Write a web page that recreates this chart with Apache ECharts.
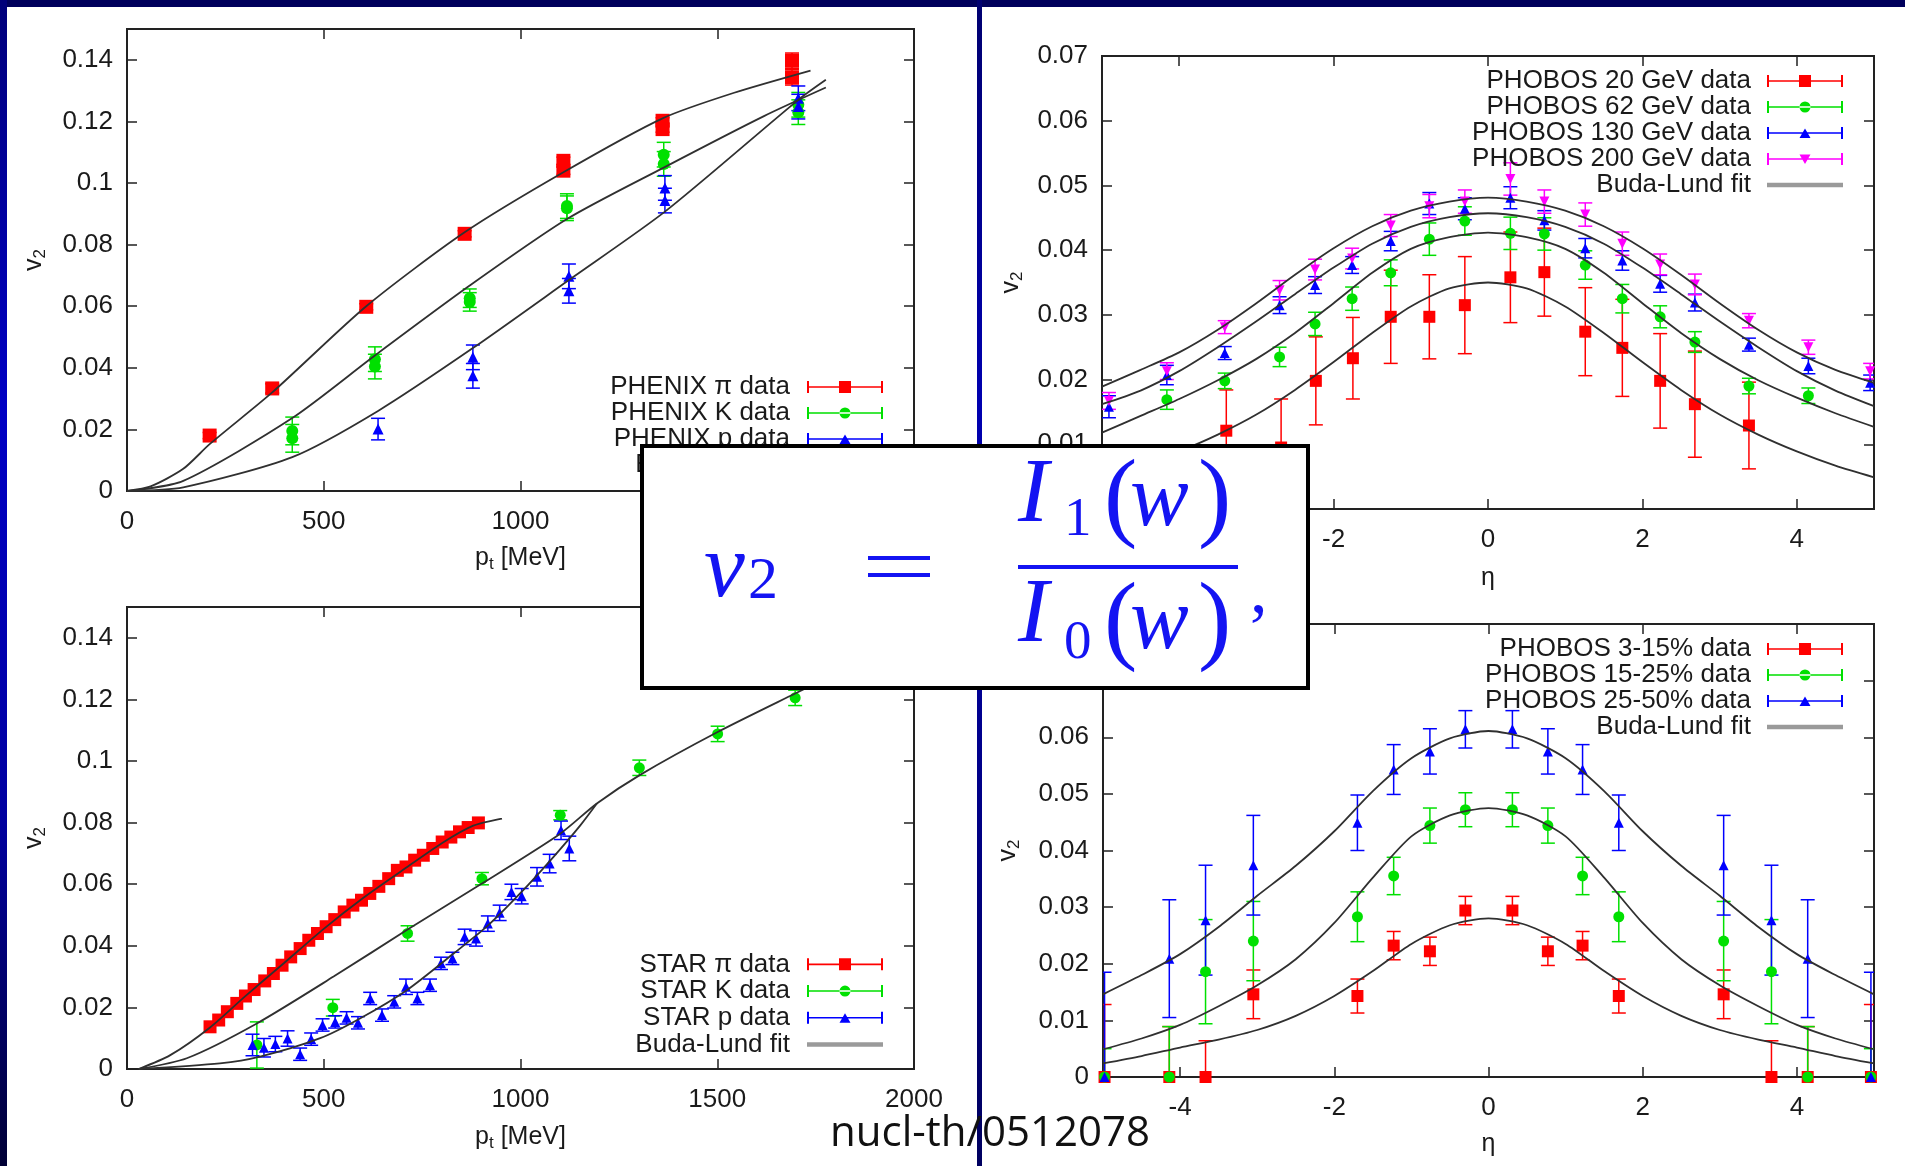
<!DOCTYPE html>
<html>
<head>
<meta charset="utf-8">
<script src="https://cdn.jsdelivr.net/npm/echarts@6/dist/echarts.min.js"></script>
<style>
html, body { margin: 0; padding: 0; background: #fff; }
#main { width: 1905px; height: 1166px; }
</style>
</head>
<body>
<div id="main"></div>
<script>
// ---------- tick labels ----------
var ptTicks = [0, 500, 1000, 1500, 2000];
var etaTicks = [-4, -2, 0, 2, 4];
var v2TicksPt = [0, 0.02, 0.04, 0.06, 0.08, 0.1, 0.12, 0.14];
var v2TicksEnergy = [0, 0.01, 0.02, 0.03, 0.04, 0.05, 0.06, 0.07];
var v2TicksCentral = [0, 0.01, 0.02, 0.03, 0.04, 0.05, 0.06, 0.07, 0.08];

// ---------- top left: PHENIX ----------
var phenixPiPt = [210, 369, 608, 858, 1109, 1109, 1361, 1361, 1690, 1690];
var phenixPiV2 = [0.018, 0.0333, 0.0598, 0.0835, 0.1072, 0.1040, 0.1202, 0.1175, 0.1397, 0.1343];
var phenixPiErr = [0.001, 0.0015, 0.001, 0.001, 0.0012, 0.0012, 0.001, 0.001, 0.0025, 0.0025];
var phenixKPt = [420, 420, 630, 630, 871, 871, 1118, 1118, 1364, 1364, 1706, 1706];
var phenixKV2 = [0.0195, 0.0171, 0.0428, 0.0404, 0.0626, 0.0614, 0.0925, 0.0918, 0.1092, 0.1062, 0.1254, 0.1230];
var phenixKErr = [0.0045, 0.0045, 0.004, 0.004, 0.003, 0.003, 0.004, 0.004, 0.004, 0.004, 0.004, 0.004];
var phenixPPt = [638, 879, 879, 1123, 1123, 1367, 1367, 1706, 1706];
var phenixPV2 = [0.0201, 0.0434, 0.0374, 0.0697, 0.0650, 0.0984, 0.0943, 0.1275, 0.1248];
var phenixPErr = [0.0035, 0.004, 0.004, 0.004, 0.004, 0.004, 0.004, 0.004, 0.004];
var fitPhenixPiPt = [0, 60, 143, 210, 369, 608, 858, 1109, 1361, 1543, 1737];
var fitPhenixPiV2 = [0, 0.0015, 0.0072, 0.0152, 0.032, 0.060, 0.084, 0.1035, 0.121, 0.1293, 0.1365];
var fitPhenixKPt = [0, 143, 420, 630, 871, 1118, 1364, 1620, 1776];
var fitPhenixKV2 = [0, 0.0033, 0.0237, 0.044, 0.0667, 0.0883, 0.105, 0.1218, 0.131];
var fitPhenixPPt = [0, 143, 420, 638, 879, 1123, 1367, 1706, 1776];
var fitPhenixPV2 = [0, 0.0012, 0.011, 0.026, 0.0464, 0.0685, 0.0907, 0.127, 0.1335];

// ---------- bottom left: STAR ----------
var starPiPt = [211, 233, 255, 279, 301, 323, 350, 372, 394, 416, 440, 462, 484, 506, 528, 552,
  574, 596, 617, 640, 665, 687, 709, 731, 753, 777, 801, 823, 845, 867, 893];
var starPiV2 = [0.0137, 0.0159, 0.0186, 0.0213, 0.0237, 0.0258, 0.0286, 0.031, 0.0337, 0.0364, 0.0391,
  0.0418, 0.044, 0.0462, 0.0485, 0.051, 0.0532, 0.0548, 0.057, 0.0593, 0.0618, 0.0645, 0.0656, 0.0678,
  0.0694, 0.0716, 0.0737, 0.0753, 0.077, 0.0784, 0.0799];
var starKPt = [330, 523, 713, 902, 1101, 1302, 1501, 1698];
var starKV2 = [0.0078, 0.0199, 0.044, 0.0618, 0.0824, 0.0978, 0.1088, 0.1205];
var starKErr = [0.0075, 0.0027, 0.0025, 0.002, 0.0015, 0.0025, 0.0025, 0.0025];
var starPPt = [319, 348, 377, 408, 440, 468, 497, 529, 558, 587, 618, 648, 679, 709, 738, 770, 798,
  827, 858, 887, 917, 947, 977, 1003, 1042, 1074, 1103, 1124];
var starPV2 = [0.0078, 0.0069, 0.0081, 0.0099, 0.0048, 0.0097, 0.0143, 0.0153, 0.0166, 0.015, 0.0229,
  0.0175, 0.0218, 0.0267, 0.0229, 0.0272, 0.0343, 0.0359, 0.0429, 0.0424, 0.0472, 0.0507, 0.0575,
  0.0561, 0.0624, 0.0667, 0.0775, 0.0716];
var starPErr = [0.0035, 0.003, 0.0025, 0.0025, 0.002, 0.002, 0.002, 0.002, 0.002, 0.002, 0.002, 0.002,
  0.002, 0.0025, 0.002, 0.002, 0.002, 0.002, 0.0025, 0.0025, 0.0025, 0.0025, 0.0025, 0.0025, 0.003,
  0.003, 0.003, 0.004];
var fitStarPiPt = [30, 110, 211, 300, 400, 500, 600, 700, 800, 880, 953];
var fitStarPiV2 = [0, 0.0045, 0.0135, 0.0236, 0.0345, 0.0455, 0.0555, 0.0645, 0.0733, 0.079, 0.0813];
var fitStarKPt = [30, 152, 330, 525, 711, 902, 1101, 1194, 1304, 1501, 1698, 1780];
var fitStarKV2 = [0, 0.0035, 0.0148, 0.03, 0.0451, 0.0602, 0.0764, 0.0862, 0.0955, 0.1094, 0.1219, 0.127];
var fitStarPPt = [30, 236, 338, 491, 592, 711, 830, 914, 999, 1084, 1152, 1194];
var fitStarPV2 = [0, 0.0018, 0.004, 0.01, 0.0164, 0.0256, 0.0375, 0.0462, 0.057, 0.0689, 0.0791, 0.0862];

// ---------- top right: PHOBOS energies ----------
var eta20 = [-3.39, -2.68, -2.23, -1.75, -1.26, -0.76, -0.30, 0.29, 0.73, 1.26, 1.74, 2.23, 2.68, 3.38];
var v2At20 = [0.0121, 0.0095, 0.0198, 0.0233, 0.0297, 0.0297, 0.0315, 0.0358, 0.0366, 0.0274, 0.0249, 0.0198, 0.0162, 0.0129];
var err20 = [0.0063, 0.0075, 0.0068, 0.0063, 0.0072, 0.0065, 0.0075, 0.007, 0.0068, 0.0068, 0.0075, 0.0073, 0.0082, 0.0067];
var eta62 = [-4.16, -3.41, -2.70, -2.24, -1.76, -1.26, -0.76, -0.30, 0.29, 0.73, 1.26, 1.74, 2.23, 2.68, 3.38, 4.15];
var v2At62 = [0.0169, 0.0198, 0.0235, 0.0286, 0.0325, 0.0365, 0.0417, 0.0445, 0.0426, 0.0425, 0.0377, 0.0325, 0.0297, 0.0258, 0.019, 0.0175];
var err62 = [0.0015, 0.0012, 0.0015, 0.0018, 0.0018, 0.002, 0.0025, 0.0022, 0.0025, 0.0025, 0.0022, 0.0022, 0.0017, 0.0016, 0.0012, 0.0012];
var etaHigh = [-4.91, -4.16, -3.41, -2.70, -2.24, -1.76, -1.26, -0.76, -0.30, 0.29, 0.73, 1.26, 1.74, 2.23, 2.68, 3.38, 4.15, 4.95];
var v2At130 = [0.0158, 0.0207, 0.0241, 0.0315, 0.0346, 0.0377, 0.0414, 0.0472, 0.0464, 0.0481, 0.0446, 0.0403, 0.0384, 0.0348, 0.0319, 0.0254, 0.0221, 0.0195];
var err130 = [0.0017, 0.0015, 0.001, 0.0013, 0.0013, 0.0013, 0.0015, 0.0017, 0.0017, 0.0017, 0.0015, 0.0015, 0.0015, 0.0013, 0.0013, 0.001, 0.0012, 0.0012];
var v2At200 = [0.0167, 0.0213, 0.0281, 0.0338, 0.037, 0.0387, 0.0438, 0.0468, 0.0475, 0.051, 0.0475, 0.0455, 0.041, 0.0378, 0.0347, 0.0291, 0.025, 0.0213];
var err200 = [0.0013, 0.0013, 0.001, 0.0015, 0.0016, 0.0016, 0.0017, 0.0018, 0.0018, 0.0025, 0.0018, 0.0018, 0.0018, 0.0016, 0.0016, 0.0011, 0.0011, 0.0012];
var etaFit = [-5, -4.5, -4, -3.5, -3, -2.5, -2, -1.5, -1, -0.5, 0, 0.5, 1, 1.5, 2, 2.5, 3, 3.5, 4, 4.5, 5];
var fit20 = [0.0049, 0.0067, 0.0089, 0.0115, 0.0146, 0.0184, 0.0227, 0.0272, 0.0313, 0.0341, 0.035, 0.0341, 0.0313, 0.0272, 0.0227, 0.0184, 0.0146, 0.0115, 0.0089, 0.0067, 0.0049];
var fit62 = [0.0118, 0.0144, 0.0170, 0.0199, 0.0232, 0.0272, 0.0318, 0.0365, 0.0402, 0.042, 0.0427, 0.042, 0.0402, 0.0365, 0.0318, 0.0272, 0.0232, 0.0199, 0.0172, 0.0148, 0.0127];
var fit130 = [0.0162, 0.0183, 0.0213, 0.025, 0.029, 0.0332, 0.0373, 0.041, 0.0436, 0.0451, 0.0457, 0.0451, 0.0436, 0.041, 0.0373, 0.0332, 0.029, 0.025, 0.0213, 0.0183, 0.0159];
var fit200 = [0.0189, 0.0215, 0.0242, 0.0277, 0.0318, 0.0362, 0.0403, 0.0437, 0.0461, 0.0475, 0.0481, 0.0475, 0.0461, 0.0437, 0.0403, 0.0362, 0.0318, 0.0277, 0.0242, 0.0215, 0.0195];

// ---------- bottom right: PHOBOS centralities ----------
var etaCent = [-4.98, -4.14, -3.67, -3.05, -1.70, -1.23, -0.76, -0.30, 0.31, 0.77, 1.22, 1.69, 3.05, 3.67, 4.14, 4.96];
var v2Cent3 = [0, 0, 0, 0.0146, 0.0143, 0.0232, 0.0222, 0.0294, 0.0294, 0.0222, 0.0232, 0.0143, 0.0146, 0, 0, 0];
var errCent3 = [0.0128, 0.0089, 0.0064, 0.0043, 0.003, 0.0025, 0.0025, 0.0025, 0.0025, 0.0025, 0.0025, 0.003, 0.0043, 0.0064, 0.0089, 0.0128];
var v2Cent15 = [0, 0, 0.0186, 0.024, 0.0283, 0.0355, 0.0444, 0.0472, 0.0472, 0.0444, 0.0355, 0.0283, 0.024, 0.0186, 0, 0];
var errCent15 = [0.005, 0.0089, 0.0092, 0.007, 0.0044, 0.0033, 0.0031, 0.003, 0.003, 0.0031, 0.0033, 0.0044, 0.007, 0.0092, 0.0089, 0.005];
var v2Cent25 = [0, 0.0209, 0.0277, 0.0374, 0.0449, 0.0543, 0.0575, 0.0614, 0.0614, 0.0575, 0.0543, 0.0449, 0.0374, 0.0277, 0.0209, 0];
var errCent25 = [0.0185, 0.0104, 0.0097, 0.0088, 0.0049, 0.0044, 0.004, 0.0033, 0.0033, 0.004, 0.0044, 0.0049, 0.0088, 0.0097, 0.0104, 0.0185];
var fitCent3 = [0.0024, 0.0037, 0.0052, 0.0066, 0.0083, 0.0108, 0.0143, 0.0187, 0.0235, 0.0268, 0.028, 0.0268, 0.0235, 0.0187, 0.0143, 0.0108, 0.0083, 0.0066, 0.0052, 0.0037, 0.0024];
var fitCent15 = [0.0049, 0.0068, 0.0092, 0.0125, 0.0162, 0.0208, 0.0272, 0.0352, 0.0425, 0.0462, 0.0475, 0.0462, 0.0425, 0.0352, 0.0272, 0.0208, 0.0162, 0.0125, 0.0092, 0.0068, 0.0049];
var fitCent25 = [0.0146, 0.018, 0.0217, 0.0265, 0.032, 0.0373, 0.0434, 0.0505, 0.0563, 0.0598, 0.0611, 0.0598, 0.0563, 0.0505, 0.0434, 0.0373, 0.032, 0.0265, 0.0217, 0.018, 0.0146];

var FONT = 'Liberation Sans';
var INK = '#1a1a1a';
var RED = '#ff0000', GREEN = '#00e000', BLUE = '#0000ff', MAGENTA = '#ff00ff', FITC = '#303030';
var FORMULA = '#1414f2';

// legend samples: error bar line with caps and a marker in the middle
var iconSquare = 'path://M0,0h2v12h-2z M74,0h2v12h-2z M0,5.2h76v1.6h-76z M32,0h12v12h-12z';
var iconCircle = 'path://M0,0h2v12h-2z M74,0h2v12h-2z M0,5.2h76v1.6h-76z M32.5,6a5.5,5.5 0 1,0 11,0a5.5,5.5 0 1,0 -11,0z';
var iconTri = 'path://M0,0h2v12h-2z M74,0h2v12h-2z M0,5.2h76v1.6h-76z M38,1.5L43.5,11h-11z';
var iconTriDown = 'path://M0,0h2v12h-2z M74,0h2v12h-2z M0,5.2h76v1.6h-76z M32.5,1.5h11L38,11z';
var iconFit = 'path://M0,0h76v4.5h-76z';

function pts(xs, ys) { return xs.map(function (x, i) { return [x, ys[i]]; }); }
function bars(xs, ys, es) { return xs.map(function (x, i) { return [x, ys[i], ys[i] - es[i], ys[i] + es[i]]; }); }

function errorBar(params, api) {
    var x = api.value(0);
    var p1 = api.coord([x, api.value(2)]);
    var p2 = api.coord([x, api.value(3)]);
    var w = 7;
    var st = { stroke: api.visual('color'), lineWidth: 1.5, fill: null };
    return {
        type: 'group',
        children: [
            { type: 'line', shape: { x1: p1[0], y1: p1[1], x2: p2[0], y2: p2[1] }, style: st },
            { type: 'line', shape: { x1: p1[0] - w, y1: p1[1], x2: p1[0] + w, y2: p1[1] }, style: st },
            { type: 'line', shape: { x1: p2[0] - w, y1: p2[1], x2: p2[0] + w, y2: p2[1] }, style: st }
        ]
    };
}

function dataSeries(name, g, xs, ys, es, color, symbol, size, rotate) {
    var out = [];
    if (es) {
        out.push({
            name: name, type: 'custom', xAxisIndex: 2 * g, yAxisIndex: 2 * g,
            renderItem: errorBar, data: bars(xs, ys, es), encode: { x: 0, y: 1 },
            itemStyle: { color: color }, z: 2, clip: true, silent: true
        });
    }
    out.push({
        name: name, type: 'scatter', xAxisIndex: 2 * g, yAxisIndex: 2 * g,
        data: pts(xs, ys), symbol: symbol, symbolSize: size, symbolRotate: rotate || 0,
        itemStyle: { color: color, opacity: 1 }, z: 3, silent: true
    });
    return out;
}

function fitSeries(g, xs, ys) {
    return {
        name: 'Buda-Lund fit', type: 'line', xAxisIndex: 2 * g, yAxisIndex: 2 * g,
        data: pts(xs, ys), symbol: 'none', showSymbol: false, smooth: 0.25,
        lineStyle: { color: FITC, width: 1.8 }, itemStyle: { color: FITC }, z: 4, silent: true
    };
}

var subRich = {
    n: { fontFamily: FONT, fontSize: 25, color: INK, verticalAlign: 'top' },
    s: { fontFamily: FONT, fontSize: 17, color: INK, lineHeight: 27, verticalAlign: 'bottom' }
};

function axisPair(kind, g, min, max, ticks, name, gap) {
    var tick = { show: true, inside: true, length: 10, customValues: ticks, lineStyle: { color: '#222', width: 1.5 } };
    var line = { show: false, onZero: false };
    var main = {
        gridIndex: g, type: 'value', min: min, max: max,
        position: kind === 'x' ? 'bottom' : 'left',
        splitLine: { show: false }, axisLine: line, axisTick: tick,
        axisLabel: {
            show: true, customValues: ticks, margin: kind === 'x' ? 18 : 14,
            fontFamily: FONT, fontSize: 26, color: INK,
            formatter: function (v) { return String(v); }
        },
        name: name, nameLocation: 'middle', nameGap: gap,
        nameTextStyle: { fontFamily: FONT, fontSize: 25, color: INK, rich: subRich }
    };
    var mirror = {
        gridIndex: g, type: 'value', min: min, max: max,
        position: kind === 'x' ? 'top' : 'right',
        splitLine: { show: false }, axisLine: line, axisTick: tick,
        axisLabel: { show: false }
    };
    return [main, mirror];
}

function legendBox(items, right, top, pad, rowH) {
    return {
        selectedMode: false, orient: 'vertical', align: 'right', right: right, top: top,
        itemWidth: 76, itemHeight: 12, itemGap: 0, padding: 0,
        textStyle: { fontFamily: FONT, fontSize: 26, color: INK, lineHeight: rowH, padding: [0, pad, 0, 0] },
        data: items
    };
}

function item(name, icon, color) {
    return { name: name, icon: icon, itemStyle: { color: color, borderWidth: 0 } };
}

var ptName = '{n|p}{s|t}{n| [MeV]}';
var etaName = '{n|\u03b7}';
var v2Name = '{n|v}{s|2}';

var xAxes = [].concat(
    axisPair('x', 0, 0, 2000, ptTicks, ptName, 55),
    axisPair('x', 1, -5, 5, etaTicks, etaName, 57),
    axisPair('x', 2, 0, 2000, ptTicks, ptName, 56),
    axisPair('x', 3, -5, 5, etaTicks, etaName, 55)
);
var yAxes = [].concat(
    axisPair('y', 0, 0, 0.15, v2TicksPt, v2Name, 78),
    axisPair('y', 1, 0, 0.07, v2TicksEnergy, v2Name, 76),
    axisPair('y', 2, 0, 0.15, v2TicksPt, v2Name, 78),
    axisPair('y', 3, 0, 0.08, v2TicksCentral, v2Name, 80)
);

var series = [].concat(
    dataSeries('PHENIX \u03c0 data', 0, phenixPiPt, phenixPiV2, phenixPiErr, RED, 'rect', 14),
    dataSeries('PHENIX K data', 0, phenixKPt, phenixKV2, phenixKErr, GREEN, 'circle', 12),
    dataSeries('PHENIX p data', 0, phenixPPt, phenixPV2, phenixPErr, BLUE, 'triangle', 11),
    fitSeries(0, fitPhenixPiPt, fitPhenixPiV2),
    fitSeries(0, fitPhenixKPt, fitPhenixKV2),
    fitSeries(0, fitPhenixPPt, fitPhenixPV2),

    dataSeries('PHOBOS 20 GeV data', 1, eta20, v2At20, err20, RED, 'rect', 12),
    dataSeries('PHOBOS 62 GeV data', 1, eta62, v2At62, err62, GREEN, 'circle', 11),
    dataSeries('PHOBOS 130 GeV data', 1, etaHigh, v2At130, err130, BLUE, 'triangle', 10),
    dataSeries('PHOBOS 200 GeV data', 1, etaHigh, v2At200, err200, MAGENTA, 'triangle', 10, 180),
    fitSeries(1, etaFit, fit20),
    fitSeries(1, etaFit, fit62),
    fitSeries(1, etaFit, fit130),
    fitSeries(1, etaFit, fit200),

    dataSeries('STAR \u03c0 data', 2, starPiPt, starPiV2, null, RED, 'rect', 13),
    dataSeries('STAR K data', 2, starKPt, starKV2, starKErr, GREEN, 'circle', 11),
    dataSeries('STAR p data', 2, starPPt, starPV2, starPErr, BLUE, 'triangle', 10),
    fitSeries(2, fitStarPiPt, fitStarPiV2),
    fitSeries(2, fitStarKPt, fitStarKV2),
    fitSeries(2, fitStarPPt, fitStarPV2),

    dataSeries('PHOBOS 3-15% data', 3, etaCent, v2Cent3, errCent3, RED, 'rect', 12),
    dataSeries('PHOBOS 15-25% data', 3, etaCent, v2Cent15, errCent15, GREEN, 'circle', 11),
    dataSeries('PHOBOS 25-50% data', 3, etaCent, v2Cent25, errCent25, BLUE, 'triangle', 10),
    fitSeries(3, etaFit, fitCent3),
    fitSeries(3, etaFit, fitCent15),
    fitSeries(3, etaFit, fitCent25)
);

function gridBox(left, top, width, height) {
    return {
        left: left, top: top, width: width, height: height, show: true,
        borderColor: '#222', borderWidth: 2, backgroundColor: 'transparent',
        containLabel: false, outerBoundsMode: 'none'
    };
}

function glyph(text, x, y, size, italic) {
    return {
        type: 'text', z: 101, silent: true,
        style: {
            text: text, x: x, y: y, fill: FORMULA,
            font: (italic ? 'italic ' : '') + size + 'px "Liberation Serif"',
            align: 'left', verticalAlign: 'middle'
        }
    };
}

var edgeFill = {
    type: 'linear', x: 0, y: 0, x2: 0, y2: 1,
    colorStops: [
        { offset: 0, color: '#00007a' }, { offset: 0.35, color: '#0000c4' },
        { offset: 0.7, color: '#0000a0' }, { offset: 1, color: '#000035' }
    ]
};
var dividerFill = {
    type: 'linear', x: 0, y: 0, x2: 0, y2: 1,
    colorStops: [
        { offset: 0, color: '#000070' }, { offset: 0.35, color: '#0000b0' },
        { offset: 1, color: '#000060' }
    ]
};

var graphics = [
    { type: 'rect', z: 50, silent: true, shape: { x: 0, y: 0, width: 1905, height: 7 }, style: { fill: '#00005c' } },
    { type: 'rect', z: 50, silent: true, shape: { x: 0, y: 0, width: 7, height: 1166 }, style: { fill: edgeFill } },
    { type: 'rect', z: 50, silent: true, shape: { x: 977, y: 0, width: 5, height: 1166 }, style: { fill: dividerFill } },
    {
        type: 'text', z: 60, silent: true,
        style: { text: 'nucl-th/0512078', x: 830, y: 1134, fill: '#111', font: '42px "Open Sans"', align: 'left', verticalAlign: 'middle' }
    },
    { type: 'rect', z: 100, silent: true, shape: { x: 642, y: 446, width: 666, height: 242 }, style: { fill: '#fff', stroke: '#000', lineWidth: 4 } },
    glyph('v', 704, 572, 92, true),
    glyph('2', 748, 582, 60, false),
    { type: 'rect', z: 101, silent: true, shape: { x: 868, y: 556, width: 62, height: 4 }, style: { fill: FORMULA } },
    { type: 'rect', z: 101, silent: true, shape: { x: 868, y: 573, width: 62, height: 4 }, style: { fill: FORMULA } },
    { type: 'rect', z: 101, silent: true, shape: { x: 1018, y: 565, width: 220, height: 4 }, style: { fill: FORMULA } },
    glyph('I', 1018, 497, 92, true),
    glyph('1', 1064, 521, 55, false),
    glyph('(', 1104, 502, 100, false),
    glyph('w', 1130, 502, 88, true),
    glyph(')', 1198, 502, 100, false),
    glyph('I', 1018, 617, 92, true),
    glyph('0', 1064, 644, 55, false),
    glyph('(', 1104, 625, 100, false),
    glyph('w', 1130, 625, 88, true),
    glyph(')', 1198, 625, 100, false),
    glyph(',', 1250, 594, 70, false)
];

var dom = document.getElementById('main');
var myChart = echarts.init(dom, null, { renderer: 'canvas' });
var option = {
    backgroundColor: '#ffffff',
    animation: false,
    textStyle: { fontFamily: FONT },
    grid: [
        gridBox(127, 29, 787, 462),
        gridBox(1102, 56, 772, 453),
        gridBox(127, 607, 787, 462),
        gridBox(1103, 624, 771, 453)
    ],
    xAxis: xAxes,
    yAxis: yAxes,
    legend: [
        legendBox([
            item('PHENIX \u03c0 data', iconSquare, RED),
            item('PHENIX K data', iconCircle, GREEN),
            item('PHENIX p data', iconTri, BLUE),
            item('Buda-Lund fit', iconFit, '#9a9a9a')
        ], 1022, 374, 12, 26),
        legendBox([
            item('PHOBOS 20 GeV data', iconSquare, RED),
            item('PHOBOS 62 GeV data', iconCircle, GREEN),
            item('PHOBOS 130 GeV data', iconTri, BLUE),
            item('PHOBOS 200 GeV data', iconTriDown, MAGENTA),
            item('Buda-Lund fit', iconFit, '#9a9a9a')
        ], 62, 68, 11, 26),
        legendBox([
            item('STAR \u03c0 data', iconSquare, RED),
            item('STAR K data', iconCircle, GREEN),
            item('STAR p data', iconTri, BLUE),
            item('Buda-Lund fit', iconFit, '#9a9a9a')
        ], 1022, 951, 12, 26.7),
        legendBox([
            item('PHOBOS 3-15% data', iconSquare, RED),
            item('PHOBOS 15-25% data', iconCircle, GREEN),
            item('PHOBOS 25-50% data', iconTri, BLUE),
            item('Buda-Lund fit', iconFit, '#9a9a9a')
        ], 62, 636, 11, 25.7)
    ],
    series: series,
    graphic: { elements: graphics }
};
if (option && typeof option === 'object') {
    myChart.setOption(option, true);
}
</script>
</body>
</html>
